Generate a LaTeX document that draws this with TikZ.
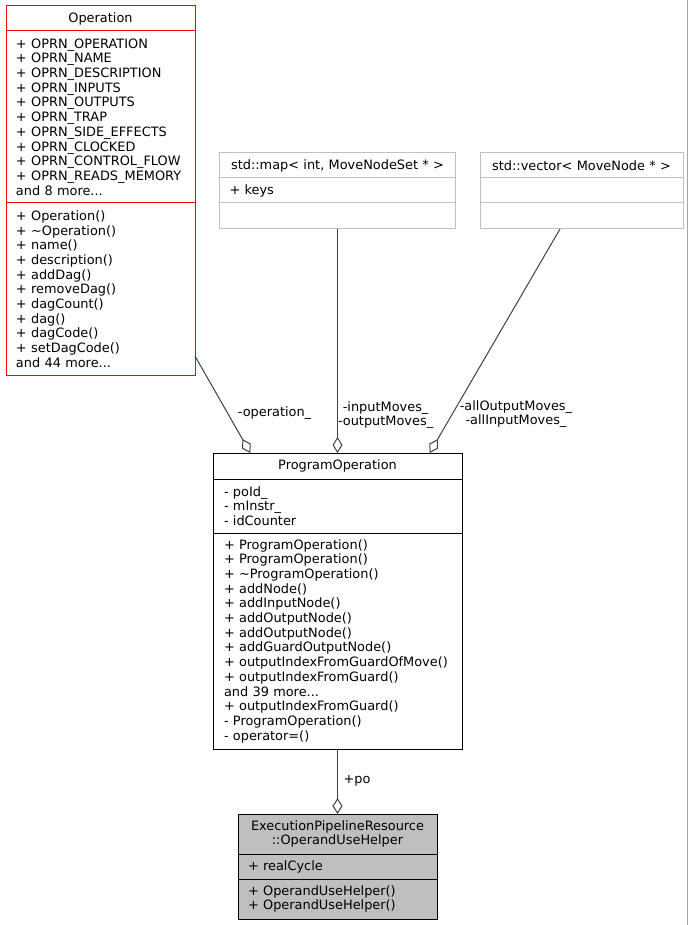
\documentclass[tikz,border=0pt]{standalone}
\usepackage{fontspec}
\setmainfont{DejaVu Sans}
\usetikzlibrary{positioning,calc,arrows.meta}

\definecolor{grey25}{HTML}{404040}
\definecolor{grey75}{HTML}{BFBFBF}

\tikzset{
	umlpart/.style={draw, rectangle, line width=1pt, inner xsep=10pt, inner ysep=0pt, outer sep=0pt, font=\fontsize{12.9}{14.7}\selectfont},
	clsname/.style={umlpart, align=center},
	members/.style={umlpart, align=left},
	aggr/.style={draw=grey25, line width=1pt, -{Diamond[open, length=16pt, width=10pt]}},
	role/.style={font=\fontsize{12.9}{14.3}\selectfont, align=center, inner sep=0pt, anchor=west},
}

\begin{document}
\begin{tikzpicture}[x=1pt,y=-1pt]
			\fill[white] (0,0) rectangle (689,925);
			\useasboundingbox (0,0) rectangle (689,925);
			\draw[line width=1.5pt, gray!70] (687.5,0) -- (687.5,925);
			
			% Operation
			\node[clsname, draw=red, text width=169pt, minimum height=25pt, anchor=north] (opname) at (100.5,6) {Operation};
			\node[members, draw=red, text width=169pt, minimum height=172pt, below=0pt of opname] (opattr) {+ OPRN\_OPERATION\\+ OPRN\_NAME\\+ OPRN\_DESCRIPTION\\+ OPRN\_INPUTS\\+ OPRN\_OUTPUTS\\+ OPRN\_TRAP\\+ OPRN\_SIDE\_EFFECTS\\+ OPRN\_CLOCKED\\+ OPRN\_CONTROL\_FLOW\\+ OPRN\_READS\_MEMORY\\and 8 more...};
			\node[members, draw=red, text width=169pt, minimum height=172pt, below=0pt of opattr] (opmeth) {+ Operation()\\+ \textasciitilde Operation()\\+ name()\\+ description()\\+ addDag()\\+ removeDag()\\+ dagCount()\\+ dag()\\+ dagCode()\\+ setDagCode()\\and 44 more...};
			
			% std::map
			\node[clsname, draw=grey75, text width=216pt, minimum height=25pt, anchor=north] (mapname) at (337.5,153) {std::map< int, MoveNodeSet * >};
			\node[members, draw=grey75, text width=216pt, minimum height=25pt, below=0pt of mapname] (mapattr) {+ keys};
			\node[members, draw=grey75, text width=216pt, minimum height=26pt, below=0pt of mapattr] (mapmeth) {};
			
			% std::vector
			\node[clsname, draw=grey75, text width=183pt, minimum height=25pt, anchor=north] (vecname) at (581.5,153) {std::vector< MoveNode * >};
			\node[members, draw=grey75, text width=183pt, minimum height=25pt, below=0pt of vecname] (vecattr) {};
			\node[members, draw=grey75, text width=183pt, minimum height=26pt, below=0pt of vecattr] (vecmeth) {};
			
			% ProgramOperation
			\node[clsname, inner xsep=11pt, text width=227pt, minimum height=26pt, anchor=north] (poname) at (337.5,453) {ProgramOperation};
			\node[members, inner xsep=11pt, text width=227pt, minimum height=54pt, below=0pt of poname] (poattr) {- poId\_\\- mInstr\_\\- idCounter};
			\node[members, inner xsep=11pt, text width=227pt, minimum height=216pt, below=0pt of poattr] (pometh) {+ ProgramOperation()\\+ ProgramOperation()\\+ \textasciitilde ProgramOperation()\\+ addNode()\\+ addInputNode()\\+ addOutputNode()\\+ addOutputNode()\\+ addGuardOutputNode()\\+ outputIndexFromGuardOfMove()\\+ outputIndexFromGuard()\\and 39 more...\\+ outputIndexFromGuard()\\- ProgramOperation()\\- operator=()};
			
			% OperandUseHelper
			\node[clsname, fill=grey75, text width=179pt, minimum height=40pt, anchor=north, font=\fontsize{12.9}{14.3}\selectfont] (helpname) at (337.5,814) {ExecutionPipelineResource\\::OperandUseHelper};
			\node[members, fill=grey75, text width=179pt, minimum height=25pt, below=0pt of helpname] (helpattr) {+ realCycle};
			\node[members, fill=grey75, text width=179pt, minimum height=40pt, below=0pt of helpattr] (helpmeth) {+ OperandUseHelper()\\+ OperandUseHelper()};
			
			% aggregations
			\draw[aggr] ($(opmeth.north east)!.89!(opmeth.south east)$) -- node[role, pos=.585, xshift=10pt] (oplbl) {-operation\_} ($(poname.north west)!.15!(poname.north east)$);
			\draw[aggr] (mapmeth.south) -- node[role, pos=.83] (maplbl) {-inputMoves\_\\-outputMoves\_} (poname.north);
			\draw[aggr] ($(vecmeth.south west)!.394!(vecmeth.south east)$) -- node[role, pos=.826, xshift=7pt] (veclbl) {-allOutputMoves\_\\-allInputMoves\_} ($(poname.north west)!.87!(poname.north east)$);
			\draw[aggr] (pometh.south) -- node[role, pos=.49, xshift=5.5pt] (polbl) {+po} (helpname.north);
\end{tikzpicture}
\end{document}
